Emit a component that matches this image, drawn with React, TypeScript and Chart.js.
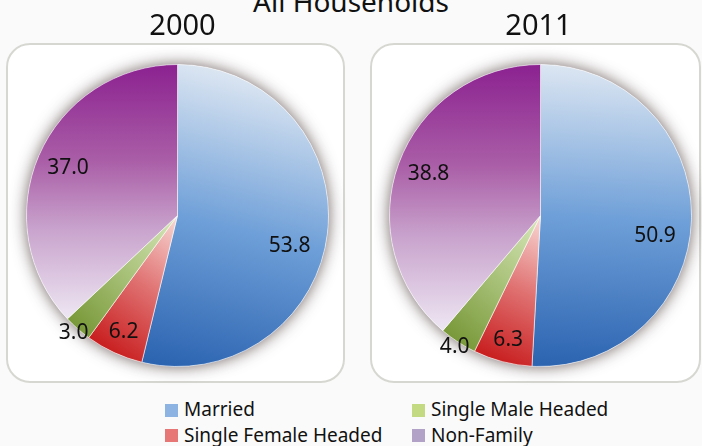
import React, { useEffect, useRef } from "react";
import { Chart, registerables } from "chart.js";

Chart.register(...registerables);

const FONT = "'Noto Sans', 'Open Sans', sans-serif";

// ---- data ----
const categories = ["Married", "Single Female Headed", "Single Male Headed", "Non-Family"];
const values2000 = [53.8, 6.2, 3.0, 37.0];
const values2011 = [50.9, 6.3, 4.0, 38.8];
const chartTitles = ["2000", "2011"];
const mainTitle = "All Households";

// ---- styles ----
const legendColors = ["#8db3e2", "#e77677", "#c3d982", "#b3a2c7"];
const gradientStops: [number, string][][] = [
  [[0, "#dce6f2"], [0.5, "#6e9fd8"], [1, "#2b63b0"]],
  [[0, "#f8dad6"], [0.5, "#e07272"], [1, "#c81d1e"]],
  [[0, "#d8e7bb"], [0.5, "#a9c27a"], [1, "#789838"]],
  [[0, "#eee7f3"], [0.35, "#c9a4cd"], [0.62, "#aa5ea7"], [1, "#8b2190"]],
];

function sliceGradient(c: any) {
  const chart = c.chart;
  const area = chart.chartArea;
  const i = c.dataIndex;
  if (!area || i === undefined) return legendColors[i ?? 0];
  const data = chart.data.datasets[0].data as number[];
  const total = data.reduce((a, b) => a + b, 0);
  let cum = 0;
  for (let k = 0; k < i; k++) cum += data[k];
  const a0 = -Math.PI / 2 + (2 * Math.PI * cum) / total;
  const a1 = a0 + (2 * Math.PI * data[i]) / total;
  const cx = (area.left + area.right) / 2;
  const cy = (area.top + area.bottom) / 2;
  const R = Math.min(area.width, area.height) / 2;
  const ux = Math.cos(a1);
  const uy = Math.sin(a1);
  let mn = 0;
  let mx = 0;
  for (let s = 0; s <= 48; s++) {
    const a = a0 + ((a1 - a0) * s) / 48;
    const p = R * (Math.cos(a) * ux + Math.sin(a) * uy);
    mn = Math.min(mn, p);
    mx = Math.max(mx, p);
  }
  const g = chart.ctx.createLinearGradient(cx + ux * mn, cy + uy * mn, cx + ux * mx, cy + uy * mx);
  gradientStops[i].forEach(([o, col]) => g.addColorStop(o, col));
  return g;
}

const shadowPlugin = {
  id: "pieShadow",
  beforeDatasetsDraw(chart: any) {
    const meta = chart.getDatasetMeta(0);
    const arc = meta.data[0];
    if (!arc) return;
    const { x, y, outerRadius } = arc.getProps(["x", "y", "outerRadius"], true);
    const ctx = chart.ctx;
    ctx.save();
    ctx.shadowColor = "rgba(60,40,40,0.75)";
    ctx.shadowBlur = 16;
    ctx.fillStyle = "#ffffff";
    ctx.beginPath();
    ctx.arc(x, y, outerRadius, 0, Math.PI * 2);
    ctx.fill();
    ctx.restore();
  },
};

const labelPlugin = {
  id: "sliceLabels",
  afterDatasetsDraw(chart: any) {
    const meta = chart.getDatasetMeta(0);
    const data = chart.data.datasets[0].data as number[];
    const total = data.reduce((a, b) => a + b, 0);
    const ctx = chart.ctx;
    ctx.save();
    ctx.font = `21px ${FONT}`;
    ctx.fillStyle = "#111111";
    ctx.textAlign = "center";
    ctx.textBaseline = "middle";
    meta.data.forEach((arc: any, i: number) => {
      const { x, y, startAngle, endAngle, outerRadius } = arc.getProps(
        ["x", "y", "startAngle", "endAngle", "outerRadius"],
        true
      );
      const share = (data[i] / total) * 100;
      let frac = 0.79;
      let nudge = 0;
      if (share < 5) frac = 1.04;
      else if (share < 10) frac = 0.85;
      else if (share > 50) {
        frac = 0.77;
        nudge = (8.5 * Math.PI) / 180;
      }
      const mid = (startAngle + endAngle) / 2 + nudge;
      const r = outerRadius * frac;
      ctx.fillText(data[i].toFixed(1), x + Math.cos(mid) * r, y + Math.sin(mid) * r);
    });
    ctx.restore();
  },
};

const panelTitlePlugin = {
  id: "panelTitle",
  afterDraw(chart: any, _args: any, opts: any) {
    const area = chart.chartArea;
    const ctx = chart.ctx;
    ctx.save();
    ctx.font = `29px ${FONT}`;
    ctx.fillStyle = "#111111";
    ctx.textAlign = "center";
    ctx.textBaseline = "alphabetic";
    ctx.fillText(opts.text, (area.left + area.right) / 2 + (opts.dx || 0), opts.baseline);
    ctx.restore();
  },
};

function PieChart({
  values,
  title,
  titleDx,
  width,
  height,
  padding,
}: {
  values: number[];
  title: string;
  titleDx: number;
  width: number;
  height: number;
  padding: { left: number; right: number; top: number; bottom: number };
}) {
  const ref = useRef<HTMLCanvasElement | null>(null);
  useEffect(() => {
    if (!ref.current) return;
    const chart = new Chart(ref.current, {
      type: "pie",
      data: {
        labels: categories,
        datasets: [
          {
            data: values,
            backgroundColor: sliceGradient as any,
            borderColor: "rgba(255,255,255,0.55)",
            borderWidth: 1,
          },
        ],
      },
      options: {
        responsive: false,
        animation: false,
        devicePixelRatio: 1,
        layout: { padding },
        plugins: {
          legend: { display: false },
          tooltip: { enabled: false },
          title: { display: false },
          panelTitle: { text: title, dx: titleDx, baseline: 35 },
        } as any,
      },
      plugins: [shadowPlugin, labelPlugin, panelTitlePlugin],
    });
    return () => chart.destroy();
  }, []);
  return <canvas ref={ref} width={width} height={height} style={{ width, height, display: "block" }} />;
}

export default function App() {
  const boxStyle: React.CSSProperties = {
    position: "absolute",
    boxSizing: "border-box",
    border: "2px solid #d7d7d2",
    borderRadius: 24,
    background: "#ffffff",
  };
  return (
    <div
      style={{
        position: "fixed",
        left: 0,
        top: 0,
        width: 702,
        height: 446,
        overflow: "hidden",
        background: "#fafafa",
        fontFamily: FONT,
        color: "#111111",
      }}
    >
      <div
        style={{
          position: "absolute",
          left: 0,
          width: 702,
          top: -13,
          textAlign: "center",
          fontSize: 28,
          lineHeight: "28px",
        }}
      >
        {mainTitle}
      </div>
      <div style={{ ...boxStyle, left: 6, top: 43, width: 339, height: 340 }} />
      <div style={{ ...boxStyle, left: 370, top: 43, width: 331, height: 340 }} />
      <div style={{ position: "absolute", left: 0, top: 0 }}>
        <PieChart values={values2000} title={chartTitles[0]} titleDx={5} width={366} height={390}
          padding={{ left: 26, right: 37, top: 64, bottom: 23 }} />
      </div>
      <div style={{ position: "absolute", left: 374, top: 0 }}>
        <PieChart values={values2011} title={chartTitles[1]} titleDx={-2} width={328} height={390}
          padding={{ left: 15, right: 10, top: 64, bottom: 23 }} />
      </div>
      {categories.map((name, i) => {
        const col = Math.floor(i / 2);
        const row = i % 2;
        const sx = [165, 412][col];
        const sy = [403.5, 429][row];
        const ty = [400, 425.5][row];
        return (
          <React.Fragment key={name}>
            <div
              style={{
                position: "absolute",
                left: sx,
                top: sy,
                width: 13,
                height: 13,
                background: legendColors[i],
              }}
            />
            <div
              style={{
                position: "absolute",
                left: sx + 19,
                top: ty,
                fontSize: 19,
                lineHeight: "19px",
                whiteSpace: "nowrap",
              }}
            >
              {name}
            </div>
          </React.Fragment>
        );
      })}
    </div>
  );
}
